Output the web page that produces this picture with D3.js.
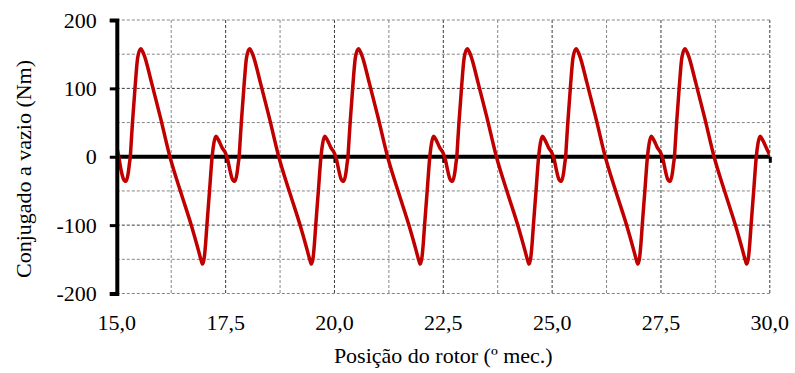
<!DOCTYPE html>
<html>
<head>
<meta charset="utf-8">
<script src="https://cdn.jsdelivr.net/npm/d3@7"></script>
<style>
  svg text { font-family: 'Liberation Serif', serif !important; }
</style>
</head>
<body style="margin:0;background:#fff">
<svg id="chart" width="795" height="373" style="display:block;font-family:'Liberation Serif',serif"></svg>
<script>
// ---- data ----
const xTicks = [15, 17.5, 20, 22.5, 25, 27.5, 30];
const xTickLabels = ["15,0", "17,5", "20,0", "22,5", "25,0", "27,5", "30,0"];
const yTicks = [-200, -100, 0, 100, 200];
const yTickLabels = ["-200", "-100", "0", "100", "200"];
const xGrid = [16.25, 17.5, 18.75, 20, 21.25, 22.5, 23.75, 25, 26.25, 27.5, 28.75, 30];
const yGrid = [-200, -150, -100, -50, 50, 100, 150, 200];
const xTitle = "Posição do rotor (º mec.)";
const yTitle = "Conjugado a vazio (Nm)";

const position = [
  15.00, 15.05, 15.10, 15.15, 15.21, 15.26, 15.29, 15.31, 15.33, 15.36, 15.42, 15.48, 15.55, 15.62, 15.80, 16.00, 16.22, 16.47, 16.72, 16.88, 16.94, 16.97, 17.01, 17.04, 17.07, 17.13, 17.19, 17.23, 17.28, 17.34, 17.42,
  17.50, 17.55, 17.60, 17.65, 17.71, 17.76, 17.79, 17.81, 17.83, 17.86, 17.92, 17.98, 18.05, 18.12, 18.30, 18.50, 18.72, 18.97, 19.22, 19.38, 19.44, 19.47, 19.51, 19.54, 19.57, 19.63, 19.69, 19.73, 19.78, 19.84, 19.92,
  20.00, 20.05, 20.10, 20.15, 20.21, 20.26, 20.29, 20.31, 20.33, 20.36, 20.42, 20.48, 20.55, 20.62, 20.80, 21.00, 21.22, 21.47, 21.72, 21.88, 21.94, 21.97, 22.01, 22.04, 22.07, 22.13, 22.19, 22.23, 22.28, 22.34, 22.42,
  22.50, 22.55, 22.60, 22.65, 22.71, 22.76, 22.79, 22.81, 22.83, 22.86, 22.92, 22.98, 23.05, 23.12, 23.30, 23.50, 23.72, 23.97, 24.22, 24.38, 24.44, 24.47, 24.51, 24.54, 24.57, 24.63, 24.69, 24.73, 24.78, 24.84, 24.92,
  25.00, 25.05, 25.10, 25.15, 25.21, 25.26, 25.29, 25.31, 25.33, 25.36, 25.42, 25.48, 25.55, 25.62, 25.80, 26.00, 26.22, 26.47, 26.72, 26.88, 26.94, 26.97, 27.01, 27.04, 27.07, 27.13, 27.19, 27.23, 27.28, 27.34, 27.42,
  27.50, 27.55, 27.60, 27.65, 27.71, 27.76, 27.79, 27.81, 27.83, 27.86, 27.92, 27.98, 28.05, 28.12, 28.30, 28.50, 28.72, 28.97, 29.22, 29.38, 29.44, 29.47, 29.51, 29.54, 29.57, 29.63, 29.69, 29.73, 29.78, 29.84, 29.92, 30.00
];
const torque = [
  14, -2, -20, -32, -36, -25, -10, 0, 20, 50, 102, 145, 158, 150, 108, 58, 0, -52, -102, -138, -152, -157, -147, -127, -100, -50, 0, 20, 30, 24, 13,
  5, -5, -20, -32, -36, -25, -10, 0, 20, 50, 102, 145, 158, 150, 108, 58, 0, -52, -102, -138, -152, -157, -147, -127, -100, -50, 0, 20, 30, 24, 13,
  5, -5, -20, -32, -36, -25, -10, 0, 20, 50, 102, 145, 158, 150, 108, 58, 0, -52, -102, -138, -152, -157, -147, -127, -100, -50, 0, 20, 30, 24, 13,
  5, -5, -20, -32, -36, -25, -10, 0, 20, 50, 102, 145, 158, 150, 108, 58, 0, -52, -102, -138, -152, -157, -147, -127, -100, -50, 0, 20, 30, 24, 13,
  5, -5, -20, -32, -36, -25, -10, 0, 20, 50, 102, 145, 158, 150, 108, 58, 0, -52, -102, -138, -152, -157, -147, -127, -100, -50, 0, 20, 30, 24, 13,
  5, -5, -20, -32, -36, -25, -10, 0, 20, 50, 102, 145, 158, 150, 108, 58, 0, -52, -102, -138, -152, -157, -147, -127, -100, -50, 0, 20, 30, 24, 13, 2
];

// ---- layout ----
const FONT = "'Liberation Serif', serif";
const plotL = 116.8, plotR = 769.8, plotT = 20, plotB = 293.5;

const svg = d3.select("#chart");
const x = d3.scaleLinear().domain([15, 30]).range([plotL, plotR]);
const y = d3.scaleLinear().domain([-200, 200]).range([plotB, plotT]);

// grid
const grid = svg.append("g");
grid.selectAll("line.vg").data(xGrid).enter().append("line")
  .attr("x1", d => x(d)).attr("x2", d => x(d))
  .attr("y1", plotT).attr("y2", plotB)
  .attr("stroke", d => (Math.abs((d / 2.5) - Math.round(d / 2.5)) < 1e-6) ? "#3a3a3a" : "#858585")
  .attr("stroke-width", 1)
  .attr("stroke-dasharray", "3,2");
grid.selectAll("line.hg").data(yGrid).enter().append("line")
  .attr("x1", plotL).attr("x2", plotR)
  .attr("y1", d => y(d)).attr("y2", d => y(d))
  .attr("stroke", d => (d % 100 === 0 && Math.abs(d) !== 200) ? "#3a3a3a" : "#858585")
  .attr("stroke-width", 1)
  .attr("stroke-dasharray", "3,2");

// x tick marks on zero line (axis generator, no labels)
const xTickAxis = d3.axisBottom(x).tickValues(xTicks.slice(1)).tickSize(6).tickFormat("");
const gxt = svg.append("g").attr("transform", `translate(0,${y(0)})`).call(xTickAxis);
gxt.select(".domain").remove();
gxt.selectAll(".tick line").attr("stroke", "#000").attr("stroke-width", 3);

// x tick labels
svg.append("g").selectAll("text").data(xTicks).enter().append("text")
  .attr("x", d => x(d)).attr("y", 330)
  .attr("text-anchor", "middle")
  .attr("font-family", FONT).attr("font-size", 22)
  .style("font-family", FONT).style("font-size", "22px")
  .text((d, i) => xTickLabels[i]);

// clip for curve
svg.append("clipPath").attr("id", "plotclip").append("rect")
  .attr("x", plotL).attr("y", plotT - 5).attr("width", plotR - plotL).attr("height", plotB - plotT + 10);

// zero line
svg.append("line")
  .attr("x1", plotL).attr("x2", plotR)
  .attr("y1", y(0)).attr("y2", y(0))
  .attr("stroke", "#000").attr("stroke-width", 4);

const line = d3.line()
  .x((d, i) => x(position[i]))
  .y(d => y(d))
  .curve(d3.curveMonotoneX);
svg.append("path")
  .datum(torque)
  .attr("clip-path", "url(#plotclip)")
  .attr("d", line)
  .attr("fill", "none")
  .attr("stroke", "#c00000")
  .attr("stroke-width", 3.5)
  .attr("stroke-linejoin", "round");

// y axis line + ticks
const yAxis = d3.axisLeft(y).tickValues(yTicks).tickSize(7).tickFormat("");
const gy = svg.append("g").attr("transform", `translate(${plotL},0)`).call(yAxis);
gy.select(".domain").attr("stroke", "#000").attr("stroke-width", 4);
gy.selectAll(".tick line").attr("stroke", "#000").attr("stroke-width", 3);

svg.append("g").selectAll("text").data(yTicks).enter().append("text")
  .attr("x", plotL - 20).attr("y", d => y(d) + 7.5)
  .attr("text-anchor", "end")
  .attr("font-family", FONT).attr("font-size", 22)
  .style("font-family", FONT).style("font-size", "22px")
  .text((d, i) => yTickLabels[i]);

// titles
svg.append("text")
  .attr("x", (plotL + plotR) / 2).attr("y", 363)
  .attr("text-anchor", "middle")
  .attr("font-family", FONT).attr("font-size", 22)
  .style("font-family", FONT).style("font-size", "22px")
  .text(xTitle);
svg.append("text")
  .attr("transform", "translate(31,169) rotate(-90)")
  .attr("text-anchor", "middle")
  .attr("font-family", FONT).attr("font-size", 22)
  .style("font-family", FONT).style("font-size", "22px")
  .text(yTitle);
</script>
</body>
</html>
